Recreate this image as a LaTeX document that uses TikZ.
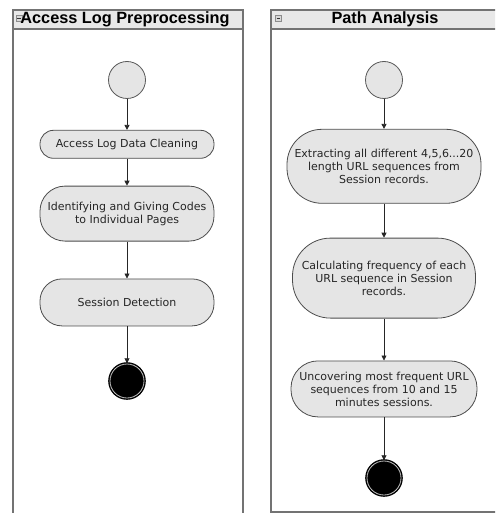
\documentclass[tikz,border=0pt]{standalone}
\usepackage{fontspec}
\usepackage{tikz}
\usetikzlibrary{positioning, arrows.meta}
\newfontfamily\titlefont{Liberation Sans}
\newfontfamily\actfont{DejaVu Sans}

\tikzset{
  lane/.style={draw=black!55, line width=1.4pt},
  bar/.style={fill=black!9},
  start/.style={draw=black!65, fill=black!10, circle, line width=0.8pt, minimum size=37pt, inner sep=0pt},
  stop/.style={draw=black, fill=black, circle, line width=1.4pt, double=black!25, double distance=0.8pt, minimum size=34pt, inner sep=0pt},
  act/.style={draw=black!70, fill=black!10, line width=0.8pt, align=center, inner sep=0pt, text=black!85, font=\actfont\fontsize{11}{13}\selectfont},
  flow/.style={-{Triangle[length=5pt, width=5pt]}, line width=0.8pt, black!85},
  icon/.style={draw=black!45, fill=black!15, line width=0.6pt, minimum size=6pt, inner sep=0pt}
}

\begin{document}
\begin{tikzpicture}[x=1pt, y=-1pt]
  \useasboundingbox (0,0) rectangle (495,513);
  \clip (0,0) rectangle (495,513);

  % swimlanes
  \fill[bar] (13,10) rectangle (243,29);
  \fill[bar] (271,10) rectangle (500,29);
  \draw[lane] (13,520) -- (13,10) -- (243,10) -- (243,520);
  \draw[lane] (13,29) -- (243,29);
  \draw[lane] (271,10) rectangle (500,512);
  \draw[lane] (271,29) -- (500,29);
  \node[icon] (I1) at (19,18.5) {};
  \node[icon] (I2) at (278.5,18.5) {};
  \draw[black!80, line width=0.8pt] ([xshift=-1.8pt]I1.center) -- ([xshift=1.8pt]I1.center);
  \draw[black!80, line width=0.8pt] ([xshift=-1.8pt]I2.center) -- ([xshift=1.8pt]I2.center);
  \node[font=\titlefont\bfseries\fontsize{16.3}{18}\selectfont] (T1) at (125,19.5) {Access Log Preprocessing};
  \node[font=\titlefont\bfseries\fontsize{16.3}{18}\selectfont] (T2) at (385,19.5) {Path Analysis};

  % left lane
  \node[start] (S1) at (127,80) {};
  \node[act, minimum width=174pt, minimum height=28pt, rounded corners=13.5pt, below=31pt of S1] (A) {Access Log Data Cleaning};
  \node[act, minimum width=174pt, minimum height=55pt, rounded corners=25pt, below=27pt of A] (B) {Identifying and Giving Codes\\to Individual Pages};
  \node[act, minimum width=174pt, minimum height=47pt, rounded corners=22pt, below=37pt of B] (C) {Session Detection};
  \node[stop, below=37pt of C] (E1) {};

  % right lane
  \node[start] (S2) at (384,80) {};
  \node[act, minimum width=194pt, minimum height=74pt, rounded corners=35pt, below=30pt of S2] (D) {Extracting all different 4,5,6...20\\length URL sequences from\\Session records.};
  \node[act, minimum width=183pt, minimum height=80pt, rounded corners=38pt, below=34pt of D] (F) {Calculating frequency of each\\URL sequence in Session\\records.};
  \node[act, minimum width=186pt, minimum height=56pt, rounded corners=27pt, below=42pt of F] (G) {Uncovering most frequent URL\\sequences from 10 and 15\\minutes sessions.};
  \node[stop, below=43pt of G] (E2) {};

  \draw[flow] (S1) -- (A);
  \draw[flow] (A) -- (B);
  \draw[flow] (B) -- (C);
  \draw[flow] (C) -- (E1);
  \draw[flow] (S2) -- (D);
  \draw[flow] (D) -- (F);
  \draw[flow] (F) -- (G);
  \draw[flow] (G) -- (E2);
\end{tikzpicture}
\end{document}
